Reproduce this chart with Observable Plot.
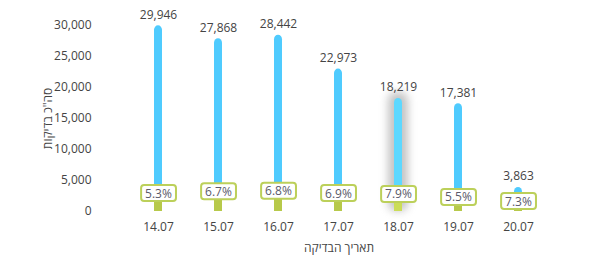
<!DOCTYPE html>
<html><head><meta charset="utf-8">
<script src="https://cdn.jsdelivr.net/npm/d3@7"></script>
<script src="https://cdn.jsdelivr.net/npm/@observablehq/plot@0.6"></script>
<style>body{margin:0;background:#fff;} svg{display:block;}</style>
</head><body><div id="chart"></div>
<script>
const dates = ["14.07", "15.07", "16.07", "17.07", "18.07", "19.07", "20.07"];
const totals = [29946, 27868, 28442, 22973, 18219, 17381, 3863];
const positiveRates = [5.3, 6.7, 6.8, 6.9, 7.9, 5.5, 7.3];
const yTicks = [0, 5000, 10000, 15000, 20000, 25000, 30000];
const highlighted = "18.07";
const yTitle = "סה\"כ בדיקות";
const xTitle = "תאריך הבדיקה";

const rows = dates.map((d, i) => ({
  date: d, total: totals[i], rate: positiveRates[i],
  positive: totals[i] * positiveRates[i] / 100
}));
const hi = rows.filter(r => r.date === highlighted);

const chart = Plot.plot({
  width: 603, height: 265,
  marginLeft: 100, marginRight: 26, marginTop: 25, marginBottom: 54,
  style: {fontFamily: "'Open Sans', sans-serif", fontSize: "12px", color: "#444", background: "white", overflow: "visible"},
  x: {domain: dates, padding: 0.86, label: null, tickSize: 0, tickPadding: 11},
  y: {domain: [0, 30000], ticks: yTicks, tickFormat: d3.format(","), tickSize: 0, tickPadding: 9, label: null},
  marks: [
    Plot.barY(hi, {x: "date", y: "total", fill: "#888888", insetLeft: -6, insetRight: -6, insetTop: -6, rx: 8}),
    Plot.barY(rows, {x: "date", y: "total", fill: d => d.date === highlighted ? "#5cd8ff" : "#4fcbfe", rx: 4.5}),
    Plot.barY(rows, {x: "date", y: "positive", fill: d => d.date === highlighted ? "#cbdd58" : "#b7c94a"}),
    Plot.text(rows, {x: "date", y: "total", text: d => d3.format(",")(d.total), dy: -11, fill: "#444", fontSize: 12}),
    Plot.text(rows, {x: "date", y: "positive", text: d => d.rate.toFixed(1) + "%", dy: -8, fill: "#5a5a6a", fontSize: 12}),
    Plot.text([yTitle], {frameAnchor: "left", textAnchor: "middle", lineAnchor: "middle", rotate: -90, dx: -52, fill: "#444", fontSize: 12}),
    Plot.text([xTitle], {frameAnchor: "bottom", textAnchor: "middle", lineAnchor: "middle", dy: 37, fill: "#444", fontSize: 12})
  ]
});
document.getElementById("chart").appendChild(chart);

// soft glow for highlighted bar
const svg = d3.select(chart);
const defs = svg.insert("defs", ":first-child");
defs.append("filter").attr("id", "glow").attr("x", "-100%").attr("y", "-50%").attr("width", "300%").attr("height", "200%")
  .append("feGaussianBlur").attr("stdDeviation", 4);
svg.selectAll("rect").filter(function() { return d3.select(this).attr("fill") === "#888888" || (this.parentNode && this.parentNode.getAttribute("fill") === "#888888"); })
  .attr("filter", "url(#glow)").attr("opacity", 0.5);

// boxes behind the percentage labels
svg.selectAll("text").filter(function() { return /%$/.test(this.textContent); }).each(function() {
  const bb = this.getBBox();
  const r = document.createElementNS("http://www.w3.org/2000/svg", "rect");
  r.setAttribute("x", bb.x - 4);
  r.setAttribute("y", bb.y + 0.5);
  r.setAttribute("width", bb.width + 8);
  r.setAttribute("height", bb.height - 1);
  r.setAttribute("rx", 3);
  r.setAttribute("fill", "white");
  r.setAttribute("stroke", "#bcd05a");
  r.setAttribute("stroke-width", 2);
  const t = this.getAttribute("transform");
  if (t) r.setAttribute("transform", t);
  this.parentNode.insertBefore(r, this);
});
</script>
</body></html>
